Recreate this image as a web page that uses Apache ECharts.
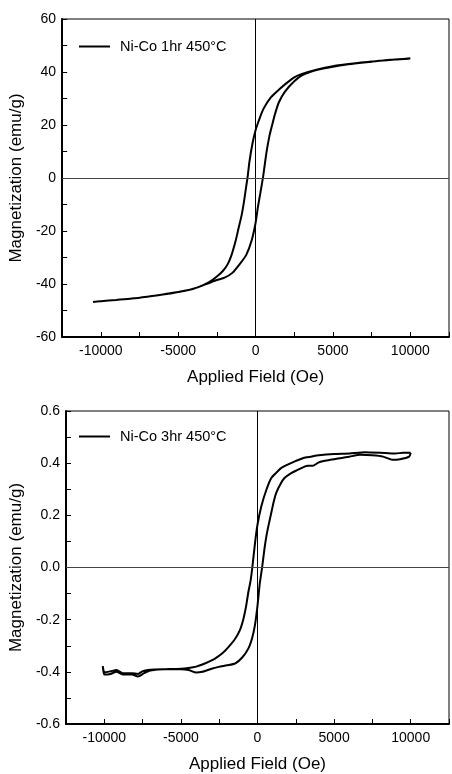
<!DOCTYPE html>
<html><head><meta charset="utf-8">
<script src="https://cdn.jsdelivr.net/npm/echarts@6/dist/echarts.min.js"></script>
<style>html,body{margin:0;padding:0;background:#fff}#c{width:452px;height:774px}</style>
</head><body><div id="c"></div>
<script>
// Top panel: Ni-Co 1hr 450°C (emu/g)
const h1Desc = [10000,9000,8000,7000,6000,5000,4000,3000,2500,2000,1500,1000,500,200,0,-200,-400,-500,-600,-750,-900,-1100,-1300,-1550,-1800,-2100,-2500,-3000,-3700,-4500,-5000,-6000,-7000,-8000,-9000,-10000,-10500];
const m1Desc = [45,44.7,44.2,43.7,43,42.2,41,39.3,38,35.8,33.3,30.5,26,21.5,18,13,6,1,-3,-9,-14,-19,-24,-29,-32.5,-35,-37.2,-39.3,-41.2,-42.5,-43,-44,-44.8,-45.5,-46,-46.5,-46.8];
const h1Asc = [-10500,-10000,-9000,-8000,-7000,-6000,-5000,-4000,-3000,-2500,-2000,-1500,-1000,-600,-250,0,150,300,500,700,900,1050,1250,1500,1900,2500,3000,4000,5000,6000,7000,8000,9000,10000];
const m1Asc = [-46.8,-46.5,-46,-45.5,-44.8,-44,-43,-41.8,-39.6,-38.5,-37.6,-35.8,-32.3,-29,-23.5,-17,-11,-6,1,9.5,16,19.5,24,28.5,32.6,36.5,38.7,40.8,42,42.9,43.6,44.2,44.7,45.1];

// Bottom panel: Ni-Co 3hr 450°C (emu/g)
const h3Desc = [10000,9500,9000,8000,7000,6000,5000,4000,3500,3000,2400,2000,1540,1200,900,580,250,0,-150,-340,-450,-600,-750,-920,-1150,-1460,-1900,-2315,-2800,-3200,-3600,-4000,-4500,-5000,-6000,-7000,-7500,-7800,-8200,-8800,-9200,-9600,-10000,-10100];
const m3Desc = [0.44,0.44,0.437,0.44,0.442,0.437,0.435,0.43,0.425,0.42,0.406,0.395,0.381,0.362,0.343,0.298,0.235,0.165,0.1,0,-0.05,-0.095,-0.15,-0.197,-0.24,-0.273,-0.305,-0.33,-0.35,-0.362,-0.372,-0.38,-0.385,-0.388,-0.39,-0.392,-0.398,-0.408,-0.405,-0.405,-0.393,-0.398,-0.402,-0.378];
const h3Asc = [-10100,-10000,-9600,-9200,-8800,-8200,-7800,-7400,-7000,-6000,-5000,-4500,-4000,-3600,-3000,-2530,-2000,-1460,-1000,-600,-350,-170,0,150,300,450,580,750,900,1050,1220,1500,1760,2200,2620,3000,3300,3600,4000,4500,5000,5500,6000,6700,7500,8200,8800,9300,9900,10000];
const m3Asc = [-0.378,-0.41,-0.408,-0.4,-0.41,-0.41,-0.418,-0.405,-0.395,-0.39,-0.39,-0.393,-0.403,-0.4,-0.388,-0.381,-0.375,-0.368,-0.345,-0.311,-0.27,-0.222,-0.146,-0.06,0,0.07,0.12,0.17,0.21,0.25,0.286,0.32,0.343,0.362,0.374,0.385,0.39,0.39,0.403,0.41,0.415,0.42,0.425,0.432,0.43,0.425,0.413,0.415,0.425,0.44];

const names = ['Ni-Co 1hr 450°C', 'Ni-Co 3hr 450°C'];
const xTitle = 'Applied Field (Oe)';
const yTitle = 'Magnetization (emu/g)';

function zip(h, m) { return h.map((v, i) => [v, m[i]]); }
const loop1 = zip(h1Desc, m1Desc).concat(zip(h1Asc, m1Asc));
const loop3 = zip(h3Desc, m3Desc).concat(zip(h3Asc, m3Asc));

const FONT = 'Liberation Sans, Arial, sans-serif';
function xAxisCfg(gi) {
  return {
    gridIndex: gi, type: 'value', min: -12500, max: 12500, interval: 2500,
    name: xTitle, nameLocation: 'middle', nameGap: 32,
    nameTextStyle: { fontFamily: FONT, fontSize: 17, color: '#000' },
    axisLine: { onZero: false, lineStyle: { color: '#000', width: 2 } },
    axisTick: { inside: true, length: 5, lineStyle: { color: '#000', width: 1 } },
    axisLabel: { margin: 7, fontFamily: FONT, fontSize: 14, color: '#000',
      formatter: v => (Math.round(v) % 5000 === 0 ? String(Math.round(v)) : '') },
    splitLine: { show: false }
  };
}
function yAxisCfg(gi, min, max, interval, fmt) {
  return {
    gridIndex: gi, type: 'value', min: min, max: max, interval: interval,
    name: yTitle, nameLocation: 'middle', nameGap: 33,
    nameTextStyle: { fontFamily: FONT, fontSize: 17, color: '#000' },
    axisLine: { onZero: false, lineStyle: { color: '#000', width: 2 } },
    axisTick: { inside: true, length: 5, lineStyle: { color: '#000', width: 1 } },
    axisLabel: { margin: 6, fontFamily: FONT, fontSize: 14, color: '#000', formatter: fmt },
    splitLine: { show: false }
  };
}
function zeroLines() {
  return {
    silent: true, symbol: ['none', 'none'], label: { show: false },
    data: [
      { xAxis: 0, lineStyle: { color: '#000', width: 1, type: 'solid' } },
      { yAxis: 0, lineStyle: { color: '#444', width: 1, type: 'solid' } }
    ]
  };
}
function legendCfg(top, name) {
  return {
    data: [{ name: name, icon: 'rect' }], left: 74, top: top, itemWidth: 31, itemHeight: 2,
    textStyle: { fontFamily: FONT, fontSize: 14.5, color: '#000', padding: [0, 0, 0, 5] }
  };
}

const chart = echarts.init(document.getElementById('c'), null, { renderer: 'canvas' });
chart.setOption({
  animation: false,
  backgroundColor: '#fff',
  grid: [
    { left: 61, right: 1, top: 19, height: 318, show: true, borderColor: '#000', borderWidth: 1, backgroundColor: 'transparent' },
    { left: 61, right: 1, top: 411, height: 315, show: true, borderColor: '#000', borderWidth: 1, backgroundColor: 'transparent' }
  ],
  legend: [legendCfg(34, names[0]), legendCfg(424, names[1])],
  xAxis: [xAxisCfg(0), xAxisCfg(1)],
  yAxis: [
    yAxisCfg(0, -60, 60, 10, v => (Math.round(v) % 20 === 0 ? String(Math.round(v)) : '')),
    yAxisCfg(1, -0.6, 0.6, 0.1, v => { const k = Math.round(v * 10); return k % 2 === 0 ? (k / 10).toFixed(1) : ''; })
  ],
  series: [
    { name: names[0], type: 'line', xAxisIndex: 0, yAxisIndex: 0, data: loop1, symbol: 'none', smooth: 0.2,
      lineStyle: { color: '#000', width: 2 }, itemStyle: { color: '#000' }, markLine: zeroLines(), z: 3 },
    { name: names[1], type: 'line', xAxisIndex: 1, yAxisIndex: 1, data: loop3, symbol: 'none', smooth: 0.2,
      lineStyle: { color: '#000', width: 2 }, itemStyle: { color: '#000' }, markLine: zeroLines(), z: 3 }
  ]
});
</script>
</body></html>
